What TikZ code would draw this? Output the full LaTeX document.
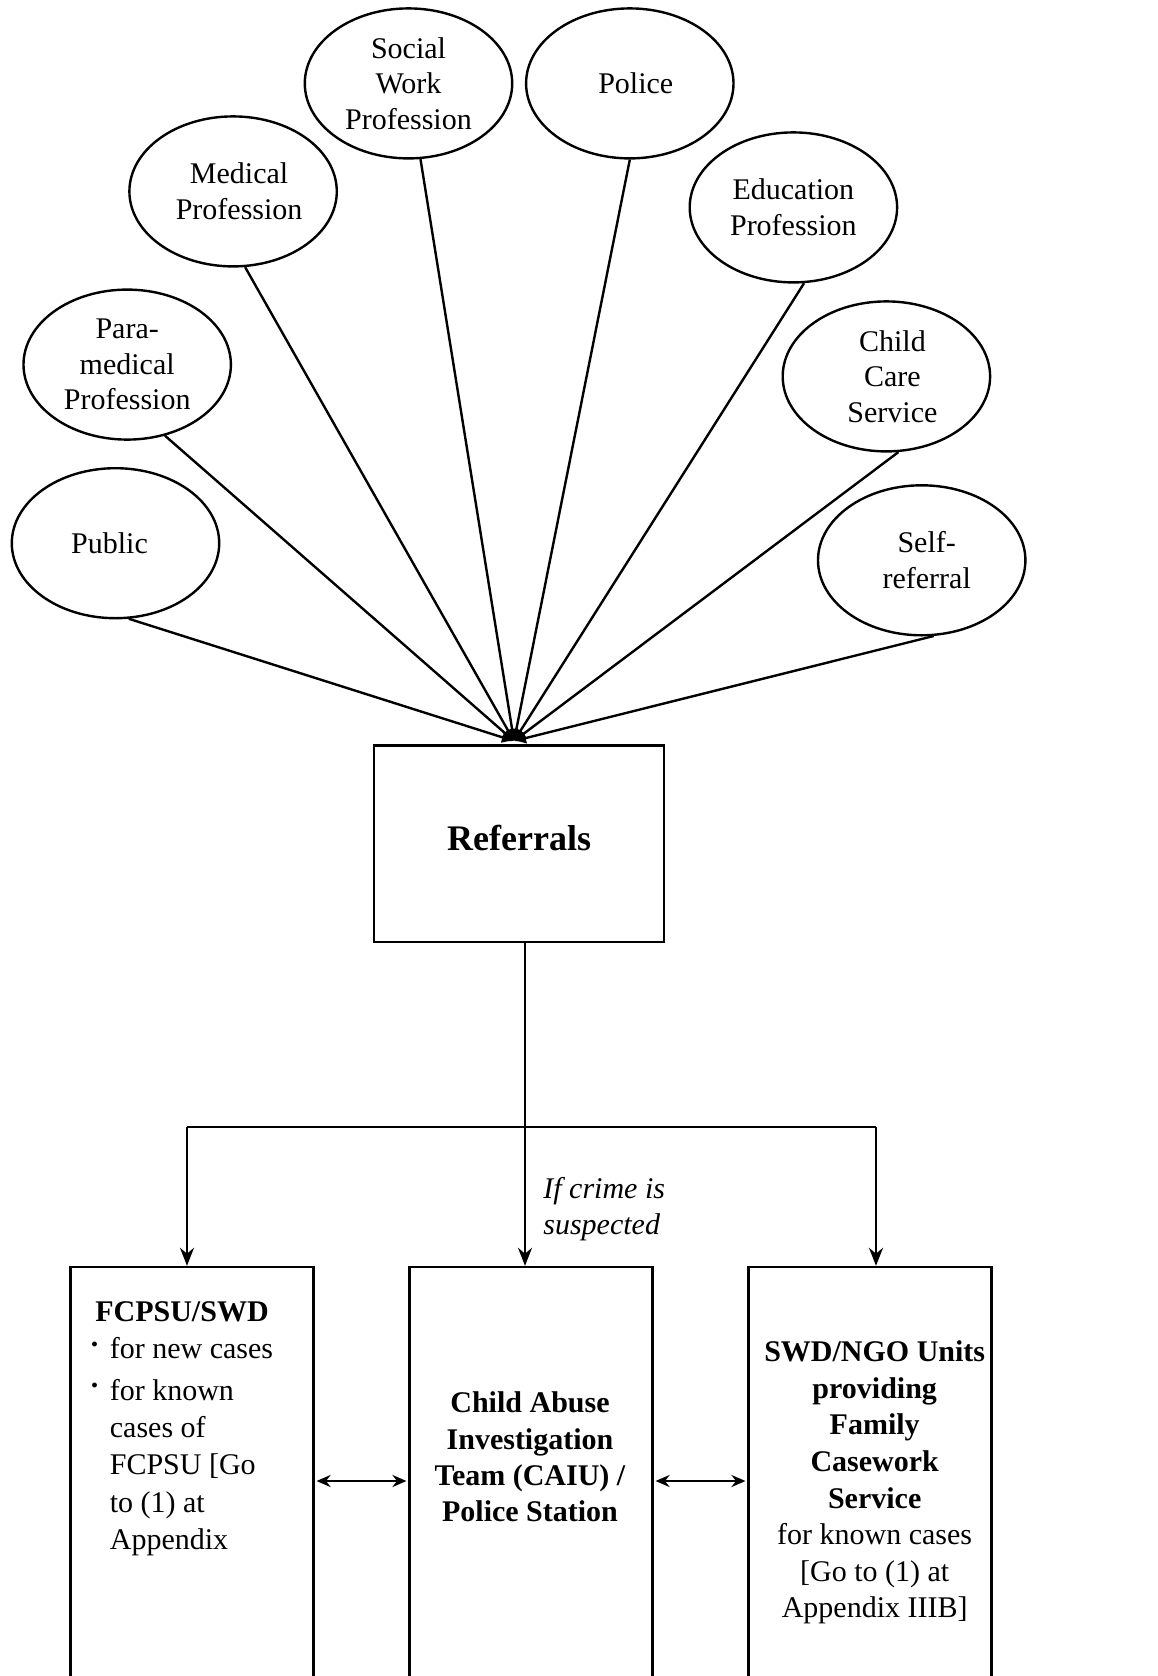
\documentclass[tikz,border=0pt]{standalone}
\usepackage{fontspec}
\setmainfont{Liberation Serif}
\usetikzlibrary{shapes.geometric,arrows.meta}
\begin{document}
\begin{tikzpicture}[x=0.5pt,y=-0.5pt,
  src/.style={draw,line width=1.2pt,ellipse,minimum width=103.7pt,minimum height=75pt,inner sep=0pt,align=center,font=\fontsize{15}{17.8}\selectfont},
  box/.style={draw,line width=1.2pt,rectangle,inner sep=0pt},
  txt/.style={font=\fontsize{15}{18.3}\selectfont,align=center,inner sep=0pt},
  ln/.style={line width=1.2pt},
  arr/.style={line width=1.2pt,-{Stealth[length=9pt,width=7pt]}},
  darr/.style={line width=1.2pt,shorten <=1pt,shorten >=1pt,{Stealth[length=7pt,width=6pt]}-{Stealth[length=7pt,width=6pt]}},
  conv/.style={line width=1.2pt,-{Latex[length=6pt,width=6pt]}}
]
\useasboundingbox (0,0) rectangle (1157,1676);

% source ellipses
\node[src] (pub) at (115.5,543.2) {Public\hspace*{6pt}};
\node[src] (para) at (127.2,364.6) {Para-\\medical\\Profession};
\node[src] (med) at (233.1,191.4) {\hspace*{6pt}Medical\\\hspace*{6pt}Profession};
\node[src] (soc) at (408.5,83.4) {Social\\Work\\Profession};
\node[src] (pol) at (629.8,83.4) {\hspace*{6pt}Police};
\node[src] (edu) at (793.4,207.4) {Education\\Profession};
\node[src] (ccs) at (886.4,376.4) {\hspace*{6pt}Child\\\hspace*{6pt}Care\\\hspace*{6pt}Service};
\node[src] (self) at (921.7,560.3) {\hspace*{5pt}Self-\\\hspace*{5pt}referral};

\coordinate (hub) at (514,741);
\draw[conv] (pub.-80) -- (hub);
\draw[conv] (para.-62) -- (hub);
\draw[conv] (med.-81) -- (hub);
\draw[conv] (soc.-81) -- (hub);
\draw[conv] (pol.-90) -- (hub);
\draw[conv] (edu.-82) -- (hub);
\draw[conv] (ccs.-81) -- (hub);
\draw[conv] (self.-81) -- (hub);

% referrals box
\node[box,minimum width=144.9pt,minimum height=98.4pt,font=\fontsize{18}{21}\selectfont\bfseries] (ref) at (519.1,843.7) {\raisebox{6pt}{Referrals}};

% split
\coordinate (split) at (525,1127);
\coordinate (hl) at (187,1127);
\coordinate (hr) at (876,1127);

% bottom boxes
\node[box,minimum width=121.35pt,minimum height=214pt] (fc) at (192,1481) {};
\node[box,minimum width=121.35pt,minimum height=214pt] (caiu) at (531,1481) {};
\node[box,minimum width=121.35pt,minimum height=214pt] (swd) at (870,1481) {};

\draw[ln] (ref.south -| split) -- (split);
\draw[ln] (hl) -- (hr);
\draw[arr] (hl) -- (hl |- fc.north);
\draw[arr] (split) -- (split |- caiu.north);
\draw[arr] (hr) -- (hr |- swd.north);

\draw[darr] (fc.east) -- (caiu.west);
\draw[darr] (caiu.east) -- (swd.west);

\node[txt,anchor=west,align=left,font=\fontsize{15}{18.3}\selectfont\itshape] (crime) at (543,1209) {If crime is\\suspected};

% box texts
\node[txt,align=left] (fctxt) at (182,1428) {%
\renewcommand{\arraystretch}{1.02}%
\begin{tabular}{@{}p{9.5pt}@{}l@{}}
\multicolumn{2}{@{}c@{}}{\textbf{FCPSU/SWD}}\\
\raisebox{0.9ex}{\textbf{.}} & for new cases\\[2pt]
\raisebox{0.9ex}{\textbf{.}} & for known\\
 & cases of\\
 & FCPSU [Go\\
 & to (1) at\\
 & Appendix
\end{tabular}};

\node[txt,font=\fontsize{15}{18.1}\selectfont\bfseries] (caiutxt) at (530,1457) {Child Abuse\\Investigation\\Team (CAIU) /\\Police Station};

\node[txt] (swdtxt) at (874.7,1482.6) {\textbf{SWD/NGO Units}\\\textbf{providing}\\\textbf{Family}\\\textbf{Casework}\\\textbf{Service}\\for known cases\\{}[Go to (1) at\\Appendix IIIB]};

\end{tikzpicture}
\end{document}
